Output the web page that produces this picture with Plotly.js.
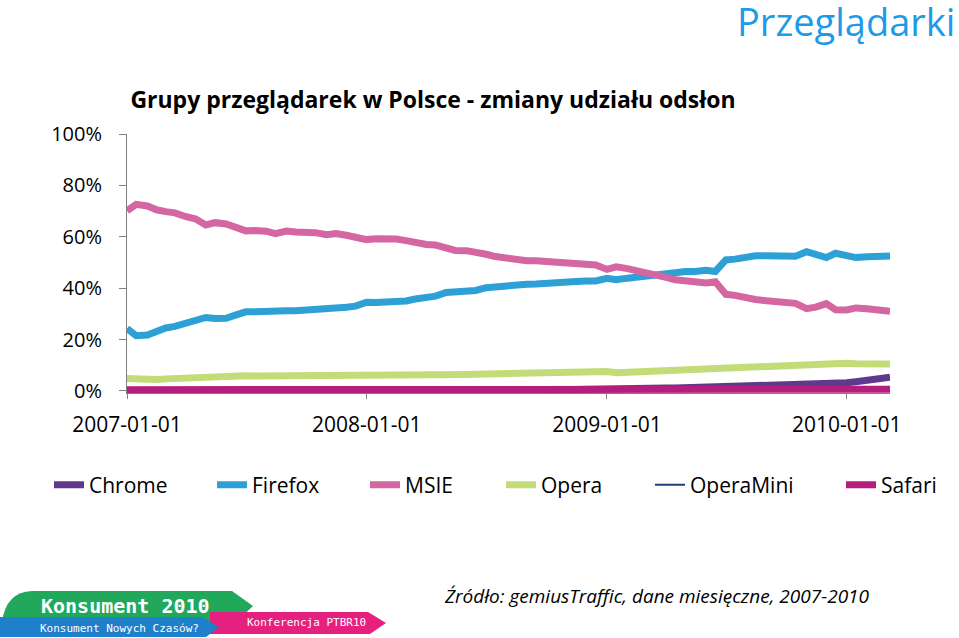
<!DOCTYPE html>
<html>
<head>
<meta charset="utf-8">
<script src="https://cdn.plot.ly/plotly-3.0.1.min.js"></script>
<style>
html,body{margin:0;padding:0;background:#fff;}
#chart{width:959px;height:638px;}
</style>
</head>
<body>
<div id="chart"></div>
<script>
// ---------- DATA ----------
const dates = [
 '2007-01-01','2007-01-15','2007-02-01','2007-02-15','2007-03-01','2007-03-15','2007-04-01','2007-04-15',
 '2007-05-01','2007-05-15','2007-06-01','2007-06-15','2007-07-01','2007-07-15','2007-08-01','2007-08-15',
 '2007-09-01','2007-09-15','2007-10-01','2007-10-15','2007-11-01','2007-11-15','2007-12-01','2007-12-15',
 '2008-01-01','2008-01-15','2008-02-01','2008-02-15','2008-03-01','2008-03-15','2008-04-01','2008-04-15',
 '2008-05-01','2008-05-15','2008-06-01','2008-06-15','2008-07-01','2008-07-15','2008-08-01','2008-08-15',
 '2008-09-01','2008-09-15','2008-10-01','2008-10-15','2008-11-01','2008-11-15','2008-12-01','2008-12-15',
 '2009-01-01','2009-01-15','2009-02-01','2009-02-15','2009-03-01','2009-03-15','2009-04-01','2009-04-15',
 '2009-05-01','2009-05-15','2009-06-01','2009-06-15','2009-07-01','2009-07-15','2009-08-01','2009-08-15',
 '2009-09-01','2009-09-15','2009-10-01','2009-10-15','2009-11-01','2009-11-15','2009-12-01','2009-12-15',
 '2010-01-01','2010-01-15','2010-02-01','2010-02-15','2010-03-01','2010-03-08'
];

const chrome = [
 null,null,null,null,null,null,null,null,null,null,null,null,null,null,null,null,
 null,null,null,null,null,null,null,null,null,null,null,null,null,null,null,null,
 null,null,null,null,null,null,null,null,
 0.3,0.4,0.5,0.5,0.6,0.6,0.7,0.7,
 0.8,0.8,0.9,0.9,1.0,1.0,1.1,1.1,1.2,1.3,1.4,1.4,1.5,1.6,1.7,1.7,
 1.8,1.9,2.0,2.2,2.4,2.5,2.7,2.9,
 3.2,3.6,4.0,4.5,5.0,5.3
];

const firefox = [
 24.3,21.5,21.8,23.4,24.5,25.1,26.2,27.0,28.6,28.2,28.3,29.5,30.8,30.8,31.0,31.6,
 31.2,31.2,31.4,31.6,31.9,31.8,32.6,33.0,
 34.5,34.4,34.7,34.4,35.0,35.8,36.5,36.9,38.3,38.6,38.6,39.1,40.2,40.5,41.0,41.7,
 41.5,41.6,41.7,41.9,42.1,42.6,42.8,42.8,
 43.8,43.3,43.9,44.3,44.6,45.3,46.0,46.3,46.5,46.5,47.0,46.5,51.0,51.3,52.2,52.6,
 52.6,52.4,52.2,52.4,54.2,52.8,51.9,53.6,
 52.3,51.9,52.2,52.3,52.4,52.5
];

const msie = [
 70.1,72.6,72.0,70.5,69.8,69.3,67.8,67.0,64.6,65.5,65.0,63.5,62.3,62.4,62.2,61.2,
 62.2,61.9,62.0,61.6,60.8,61.3,60.6,60.0,
 58.9,59.2,59.2,59.1,58.5,57.6,57.0,56.8,55.3,54.7,54.6,54.2,53.2,52.3,51.6,50.8,
 50.7,50.7,50.4,50.0,49.6,49.5,49.4,49.0,
 47.3,48.3,47.6,46.9,46.3,45.3,44.2,43.3,43.0,42.7,42.0,42.5,37.6,37.2,36.1,35.6,
 35.1,34.8,34.5,34.1,32.0,32.6,34.0,31.6,
 31.5,32.3,32.0,31.5,31.1,31.0
];

const opera = [
 4.8,4.6,4.4,4.5,4.7,4.9,5.1,5.3,5.7,5.6,5.8,6.0,5.9,5.8,5.8,5.9,
 5.8,5.8,5.9,5.8,5.8,5.9,5.8,5.8,
 5.9,5.8,5.9,5.9,6.0,6.0,6.1,6.2,6.3,6.4,6.4,6.5,6.6,6.5,6.6,6.7,
 6.8,6.9,7.0,7.1,7.2,7.4,7.5,7.7,
 7.6,7.1,7.3,7.5,7.6,7.8,7.9,8.1,8.2,8.3,8.3,8.5,9.0,9.2,9.3,9.4,
 9.5,9.6,9.8,10.0,10.1,10.3,10.5,11.0,
 10.8,10.6,10.6,10.5,10.5,10.5
];

const operaMini = [
 0.1,0.1,0.1,0.1,0.1,0.1,0.1,0.1,0.1,0.1,0.1,0.1,0.1,0.1,0.1,0.1,
 0.1,0.1,0.1,0.1,0.1,0.1,0.1,0.1,
 0.2,0.2,0.2,0.2,0.2,0.2,0.2,0.2,0.2,0.2,0.2,0.2,0.2,0.2,0.2,0.2,
 0.2,0.2,0.2,0.2,0.2,0.2,0.2,0.2,
 0.3,0.3,0.3,0.3,0.3,0.3,0.3,0.3,0.3,0.3,0.3,0.3,0.3,0.3,0.3,0.3,
 0.3,0.3,0.3,0.3,0.3,0.3,0.3,0.3,
 0.3,0.3,0.3,0.3,0.3,0.3
];

const safari = [
 0.5,0.5,0.5,0.5,0.5,0.5,0.5,0.5,0.5,0.5,0.5,0.5,0.5,0.5,0.5,0.5,
 0.5,0.5,0.5,0.5,0.5,0.5,0.5,0.5,
 0.6,0.6,0.6,0.6,0.6,0.6,0.6,0.6,0.6,0.6,0.6,0.6,0.6,0.6,0.6,0.6,
 0.6,0.6,0.6,0.6,0.6,0.6,0.6,0.6,
 0.6,0.6,0.6,0.6,0.6,0.6,0.6,0.6,0.7,0.7,0.7,0.7,0.7,0.7,0.7,0.7,
 0.7,0.7,0.7,0.7,0.7,0.7,0.7,0.7,
 0.7,0.7,0.7,0.7,0.7,0.7
];

const seriesNames = ['Chrome','Firefox','MSIE','Opera','OperaMini','Safari'];
const seriesData = [chrome, firefox, msie, opera, operaMini, safari];
const tickDates = ['2007-01-01','2008-01-01','2009-01-01','2010-01-01'];
const yTickVals = [0,20,40,60,80,100];
const yTickText = ['0%','20%','40%','60%','80%','100%'];

// ---------- STYLE ----------
const colors = ['#5F3A8C','#2DA0D6','#D466A2','#C2DC78','#1F3E78','#B41E7C'];
const widths = [7,7,7,7,2,7];
const FONT = 'Open Sans, Noto Sans, sans-serif';

// geometry helpers (pixel -> paper)
const L = 127, R = 69, T = 134, B = 245, W = 959, H = 638;
const PW = W - L - R, PH = H - T - B;
const px = v => (v - L) / PW;
const py = v => (H - B - v) / PH;

const legendLeft = [49, 212, 365, 501, 650, 841];
const legendKeys = ['legend','legend2','legend3','legend4','legend5','legend6'];

const traces = seriesNames.map((n, i) => ({
  type: 'scatter', mode: 'lines', name: n,
  x: dates, y: seriesData[i],
  line: {color: colors[i], width: widths[i]},
  legend: legendKeys[i],
  connectgaps: false,
  hoverinfo: 'skip'
}));

const layout = {
  width: W, height: H,
  margin: {l: L, r: R, t: T, b: B},
  paper_bgcolor: '#fff', plot_bgcolor: '#fff',
  font: {family: FONT, color: '#000'},
  title: {
    text: '<b>Grupy przeglądarek w Polsce - zmiany udziału odsłon</b>',
    font: {family: FONT, size: 23, color: '#000'},
    x: 433 / W, xanchor: 'center', xref: 'container',
    y: 1 - 100 / H, yanchor: 'middle', yref: 'container'
  },
  xaxis: {
    type: 'date', range: ['2007-01-01', '2010-03-08'],
    tickvals: tickDates, ticktext: tickDates,
    ticks: 'outside', ticklen: 5, tickcolor: '#7f7f7f', tickwidth: 1,
    ticklabelstandoff: 8,
    showline: true, linecolor: '#7f7f7f', linewidth: 1,
    showgrid: false, zeroline: false,
    tickfont: {family: FONT, size: 21, color: '#000'}
  },
  yaxis: {
    range: [-0.8, 100],
    tickvals: yTickVals, ticktext: yTickText,
    ticks: 'outside', ticklen: 7, tickcolor: '#7f7f7f', tickwidth: 1,
    ticklabelstandoff: 13,
    showline: true, linecolor: '#7f7f7f', linewidth: 1,
    showgrid: false, zeroline: false,
    tickfont: {family: FONT, size: 20, color: '#000'}
  },
  showlegend: true,
  annotations: [
    {text: 'Przeglądarki', xref: 'paper', yref: 'paper', x: px(957), y: py(21),
     xanchor: 'right', yanchor: 'middle', showarrow: false,
     font: {family: FONT, size: 38, color: '#1E9BE8'}},
    {text: '<i>Źródło: gemiusTraffic, dane miesięczne, 2007-2010</i>', xref: 'paper', yref: 'paper',
     x: px(442), y: py(596), xanchor: 'left', yanchor: 'middle', showarrow: false,
     font: {family: FONT, size: 19, color: '#000'}},
    {text: '<b>Konsument 2010</b>', xref: 'paper', yref: 'paper', x: px(125), y: py(606),
     xanchor: 'center', yanchor: 'middle', showarrow: false,
     font: {family: 'DejaVu Sans Mono, monospace', size: 20, color: '#fff'}},
    {text: 'Konsument Nowych Czasów?', xref: 'paper', yref: 'paper', x: px(119), y: py(628),
     xanchor: 'center', yanchor: 'middle', showarrow: false,
     font: {family: 'DejaVu Sans Mono, monospace', size: 11, color: '#fff'}},
    {text: 'Konferencja PTBR10', xref: 'paper', yref: 'paper', x: px(306), y: py(622),
     xanchor: 'center', yanchor: 'middle', showarrow: false,
     font: {family: 'DejaVu Sans Mono, monospace', size: 11, color: '#fff'}}
  ],
  shapes: [
    {type: 'path', xref: 'paper', yref: 'paper', layer: 'above', line: {width: 0},
     fillcolor: '#21A85B',
     path: `M ${px(2)} ${py(622)} Q ${px(6)} ${py(592)} ${px(32)} ${py(591)} L ${px(232)} ${py(591)} L ${px(253)} ${py(606)} L ${px(236)} ${py(622)} Z`},
    {type: 'path', xref: 'paper', yref: 'paper', layer: 'above', line: {width: 0},
     fillcolor: '#E6207E',
     path: `M ${px(210)} ${py(612)} L ${px(368)} ${py(612)} L ${px(386)} ${py(623)} L ${px(370)} ${py(634)} L ${px(210)} ${py(634)} Z`},
    {type: 'path', xref: 'paper', yref: 'paper', layer: 'above', line: {width: 0},
     fillcolor: '#1E7FCB',
     path: `M ${px(0)} ${py(617)} L ${px(202)} ${py(617)} L ${px(219)} ${py(627)} L ${px(206)} ${py(637)} L ${px(0)} ${py(637)} Z`}
  ]
};

legendKeys.forEach((k, i) => {
  layout[k] = {
    orientation: 'h', x: px(legendLeft[i]), y: py(485),
    xanchor: 'left', yanchor: 'middle',
    bgcolor: 'rgba(0,0,0,0)', borderwidth: 0,
    font: {family: FONT, size: 21, color: '#000'}
  };
});

Plotly.newPlot('chart', traces, layout, {staticPlot: true, displayModeBar: false});
</script>
</body>
</html>
